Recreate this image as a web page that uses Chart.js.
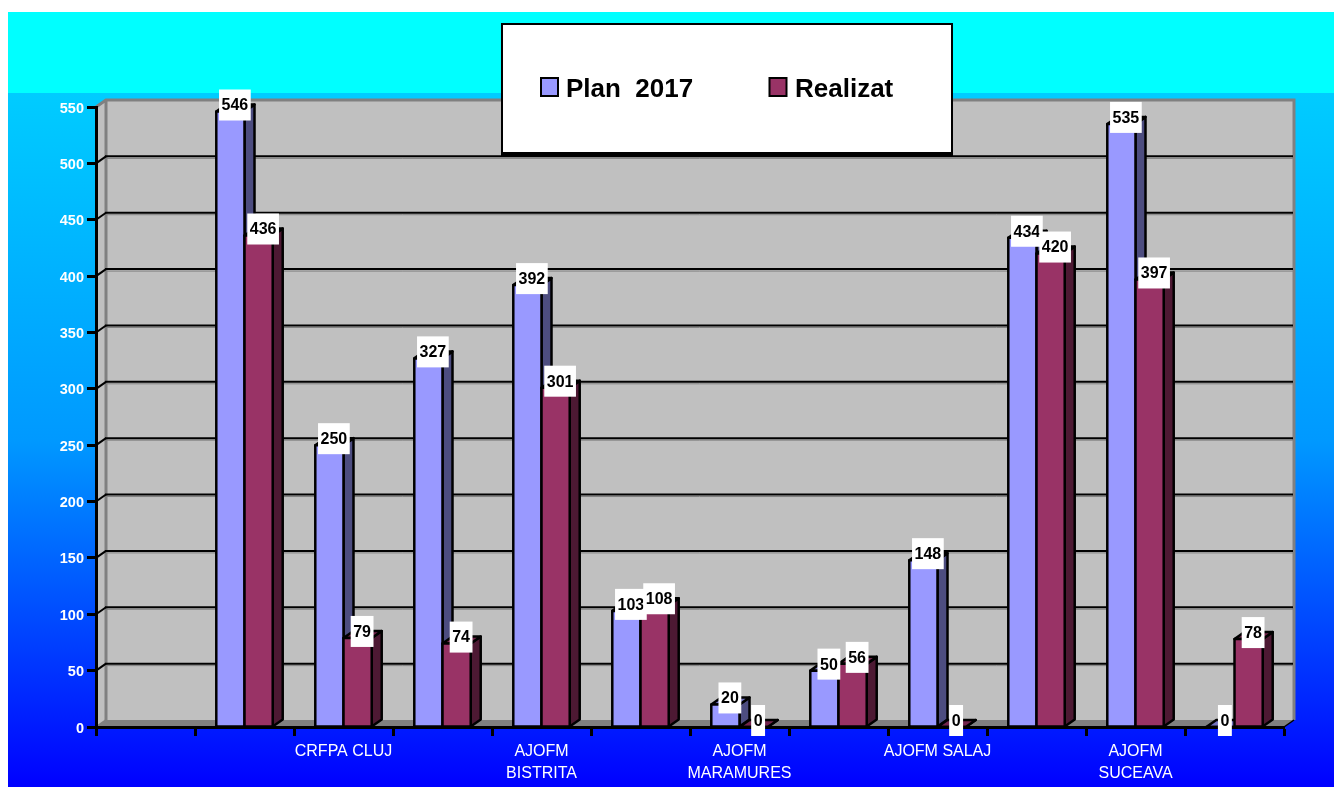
<!DOCTYPE html>
<html>
<head>
<meta charset="utf-8">
<title>Plan 2017 / Realizat</title>
<script src="https://cdn.jsdelivr.net/npm/chart.js@4/dist/chart.umd.min.js"></script>
<style>
html, body { margin: 0; padding: 0; background: #fff; }
#wrap { width: 1334px; height: 787px; overflow: hidden; }
</style>
</head>
<body>
<div id="wrap"><canvas id="chart" width="1334" height="787"></canvas></div>
<script>
const categories = ['', '', 'CRFPA CLUJ', '', ['AJOFM', 'BISTRITA'], '', ['AJOFM', 'MARAMURES'], '', 'AJOFM SALAJ', '', ['AJOFM', 'SUCEAVA'], ''];
const planValues = [null, 546, 250, 327, 392, 103, 20, 50, 148, 434, 535, 0];
const realizatValues = [null, 436, 79, 74, 301, 108, 0, 56, 0, 420, 397, 78];
const seriesNames = ['Plan  2017', 'Realizat'];
const planColors = { front: '#9999ff', side: '#4d4d80', top: '#7373bf' };
const realizatColors = { front: '#993366', side: '#4d1933', top: '#73264d' };

const depthX = 10;
const depthY = 7;
const fontName = '"Liberation Sans", Arial, sans-serif';

function poly(ctx, pts, fill, stroke, lw) {
    ctx.beginPath();
    pts.forEach((p, i) => i ? ctx.lineTo(p[0], p[1]) : ctx.moveTo(p[0], p[1]));
    ctx.closePath();
    if (fill) { ctx.fillStyle = fill; ctx.fill(); }
    if (stroke) { ctx.strokeStyle = stroke; ctx.lineWidth = lw; ctx.stroke(); }
}

const chart3d = {
    id: 'chart3d',
    beforeDraw(chart) {
        const { ctx, scales: { x, y } } = chart;
        const w = chart.width, h = chart.height;
        ctx.save();
        // page background
        ctx.fillStyle = '#ffffff';
        ctx.fillRect(0, 0, w, h);
        ctx.fillStyle = '#00ffff';
        ctx.fillRect(8, 12, w - 8, 81);
        const g = ctx.createLinearGradient(0, 93, 0, h);
        g.addColorStop(0, '#00ccff');
        g.addColorStop(0.5, '#0099ff');
        g.addColorStop(1, '#0000ff');
        ctx.fillStyle = g;
        ctx.fillRect(8, 93, w - 8, h - 93);

        // walls and floor
        const l = x.left, r = x.right, t = y.top, b = y.bottom;
        poly(ctx, [[l, t], [l + depthX, t - depthY], [l + depthX, b - depthY], [l, b]], '#c0c0c0');
        poly(ctx, [[l + depthX, t - depthY], [r + depthX, t - depthY], [r + depthX, b - depthY], [l + depthX, b - depthY]], '#c0c0c0');
        poly(ctx, [[l, b], [l + depthX, b - depthY], [r + depthX, b - depthY], [r, b]], '#808080');
        ctx.strokeStyle = '#808080';
        ctx.lineWidth = 3;
        ctx.beginPath();
        ctx.moveTo(l, t);
        ctx.lineTo(l + depthX, t - depthY);
        ctx.lineTo(r + depthX, t - depthY);
        ctx.lineTo(r + depthX, b - depthY);
        ctx.moveTo(l + depthX, t - depthY);
        ctx.lineTo(l + depthX, b - depthY);
        ctx.stroke();
        ctx.strokeStyle = '#000000';
        ctx.lineWidth = 1.5;
        ctx.beginPath();
        ctx.moveTo(r, b);
        ctx.lineTo(r + depthX, b - depthY);
        ctx.stroke();

        // gridlines on the back wall
        y.ticks.forEach((tk, i) => {
            const py = y.getPixelForTick(i);
            if (tk.value > 0 && tk.value < y.max) {
                ctx.strokeStyle = '#808080';
                ctx.lineWidth = 1;
                ctx.beginPath();
                ctx.moveTo(l + depthX, py - depthY + 2);
                ctx.lineTo(r + depthX - 1, py - depthY + 2);
                ctx.stroke();
                ctx.strokeStyle = '#000000';
                ctx.lineWidth = 2;
                ctx.beginPath();
                ctx.moveTo(l + depthX - 1, py - depthY);
                ctx.lineTo(r + depthX - 1, py - depthY);
                ctx.stroke();
            }
            ctx.strokeStyle = (tk.value === y.max || tk.value === 0) ? '#808080' : '#000000';
            ctx.lineWidth = 2;
            ctx.beginPath();
            ctx.moveTo(l, py);
            ctx.lineTo(l + depthX, py - depthY);
            ctx.stroke();
        });
        ctx.restore();
    },
    beforeDatasetDraw() {
        return false;
    },
    afterDatasetsDraw(chart) {
        const { ctx } = chart;
        const palettes = [planColors, realizatColors];
        ctx.save();
        ctx.lineJoin = 'round';
        chart.data.datasets.forEach((ds, di) => {
            const colors = palettes[di];
            chart.getDatasetMeta(di).data.forEach((el, i) => {
                if (ds.data[i] === null) return;
                const x0 = el.x - el.width / 2, x1 = el.x + el.width / 2;
                poly(ctx, [[x1, el.y], [x1 + depthX, el.y - depthY], [x1 + depthX, el.base - depthY], [x1, el.base]], colors.side, '#000000', 2.5);
                poly(ctx, [[x0, el.y], [x0 + depthX, el.y - depthY], [x1 + depthX, el.y - depthY], [x1, el.y]], colors.top, '#000000', 2.5);
                el.draw(ctx);
                ctx.strokeStyle = '#000000';
                ctx.lineWidth = 2.5;
                ctx.strokeRect(x0, el.y, el.width, el.base - el.y);
            });
        });
        ctx.restore();
    },
    afterDraw(chart) {
        const { ctx } = chart;
        ctx.save();
        // value labels
        ctx.font = 'bold 16px ' + fontName;
        ctx.textAlign = 'center';
        ctx.textBaseline = 'middle';
        chart.data.datasets.forEach((ds, di) => {
            chart.getDatasetMeta(di).data.forEach((el, i) => {
                const v = ds.data[i];
                if (v === null) return;
                const txt = String(v);
                const bw = ctx.measureText(txt).width + 5;
                const cx = el.x + 4.5, cy = el.y - 6.5;
                ctx.fillStyle = '#ffffff';
                ctx.fillRect(cx - bw / 2, cy - 15.5, bw, 31);
                ctx.fillStyle = '#000000';
                ctx.fillText(txt, cx, cy + 1);
            });
        });

        // legend box
        ctx.fillStyle = '#000000';
        ctx.fillRect(501, 23, 452, 133);
        ctx.fillStyle = '#ffffff';
        ctx.fillRect(503, 25, 448, 127);
        const items = [
            { sx: 541, tx: 566, color: planColors.front },
            { sx: 769.5, tx: 795, color: realizatColors.front }
        ];
        ctx.textAlign = 'left';
        ctx.textBaseline = 'alphabetic';
        ctx.font = 'bold 26px ' + fontName;
        items.forEach((it, i) => {
            ctx.fillStyle = it.color;
            ctx.strokeStyle = '#000000';
            ctx.lineWidth = 2;
            ctx.fillRect(it.sx, 78, 17, 18);
            ctx.strokeRect(it.sx, 78, 17, 18);
            ctx.fillStyle = '#000000';
            ctx.fillText(seriesNames[i], it.tx, 97);
        });
        ctx.restore();
    }
};

new Chart(document.getElementById('chart'), {
    type: 'bar',
    data: {
        labels: categories,
        datasets: [
            { label: seriesNames[0], data: planValues, backgroundColor: planColors.front },
            { label: seriesNames[1], data: realizatValues, backgroundColor: realizatColors.front }
        ]
    },
    options: {
        responsive: false,
        animation: false,
        layout: { padding: { left: 0, top: 107, right: 50, bottom: 0 } },
        datasets: {
            bar: {
                categoryPercentage: 0.57,
                barPercentage: 1,
                borderWidth: 0
            }
        },
        plugins: { legend: { display: false }, title: { display: false }, tooltip: { enabled: false } },
        scales: {
            x: {
                afterFit(scale) { scale.height = 60; },
                grid: { drawOnChartArea: false, tickColor: '#000000', tickWidth: 3, tickLength: 9 },
                border: { color: '#000000', width: 3, z: 1 },
                ticks: {
                    color: '#ffffff',
                    font: { family: fontName, size: 16, lineHeight: 1.375 },
                    padding: 5,
                    maxRotation: 0,
                    autoSkip: false
                }
            },
            y: {
                min: 0,
                max: 550,
                afterFit(scale) { scale.width = 96; },
                grid: { drawOnChartArea: false, tickColor: '#000000', tickWidth: 3, tickLength: 9 },
                border: { color: '#000000', width: 3, z: 1 },
                ticks: {
                    stepSize: 50,
                    color: '#ffffff',
                    font: { family: fontName, size: 14.5, weight: 'bold' },
                    padding: 3,
                    labelOffset: 1.5
                }
            }
        }
    },
    plugins: [chart3d]
});
</script>
</body>
</html>
